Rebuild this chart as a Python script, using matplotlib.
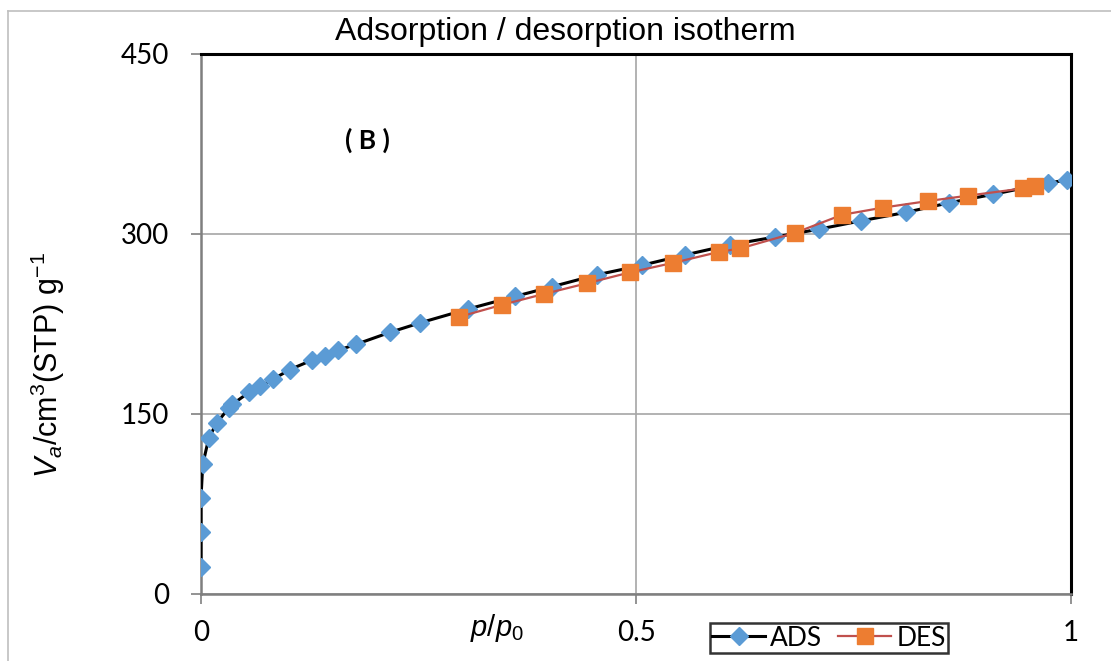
import matplotlib
matplotlib.use('Agg')
import matplotlib.pyplot as plt
from matplotlib.lines import Line2D

plt.rcParams['font.family'] = ['Liberation Sans', 'DejaVu Sans']
plt.rcParams['mathtext.fontset'] = 'custom'
plt.rcParams['mathtext.rm'] = 'Liberation Sans'
plt.rcParams['mathtext.it'] = 'Liberation Sans:italic'

# adsorption branch (p/p0, volume)
ads_p = [0.0, 0.0, 0.0, 0.002, 0.009, 0.018, 0.032, 0.036, 0.055, 0.068, 0.083,
         0.102, 0.128, 0.143, 0.157, 0.178, 0.217, 0.252, 0.307, 0.361, 0.403,
         0.455, 0.507, 0.556, 0.608, 0.66, 0.71, 0.759, 0.81, 0.86, 0.91, 0.974, 0.995]
ads_v = [22.5, 51.7, 80, 108, 130, 142.5, 155, 158, 168, 173, 179,
         187, 195, 198, 203, 208, 218, 226, 237.5, 248, 256,
         266, 274, 282.5, 291, 297.5, 304, 311, 318, 326, 333, 342.5, 345]

# desorption branch
des_p = [0.297, 0.346, 0.394, 0.444, 0.493, 0.543, 0.595, 0.62, 0.683,
         0.737, 0.784, 0.836, 0.882, 0.945, 0.959]
des_v = [231, 241, 250, 259, 268, 276, 285, 288, 301,
         316, 322, 327.5, 332, 338, 340]

x_ticks = [0, 0.5, 1]
x_labels = ['0', '0.5', '1']
y_ticks = [0, 150, 300, 450]

fig = plt.figure(figsize=(11.11, 6.61), dpi=100)
ax = fig.add_axes([201 / 1111, 67 / 661, 870 / 1111, 540 / 661])

ax.plot(ads_p, ads_v, color='black', lw=2.2, marker='D', ms=9,
        mfc='#5B9BD5', mec='#5B9BD5', label='ADS', zorder=3)
ax.plot(des_p, des_v, color='#C0504D', lw=1.6, marker='s', ms=11,
        mfc='#ED7D31', mec='#ED7D31', label='DES', zorder=4)

ax.set_xlim(0, 1)
ax.set_ylim(0, 450)
ax.set_xticks(x_ticks)
ax.set_xticklabels(x_labels)
ax.set_yticks(y_ticks)
ax.grid(True, color='#A6A6A6', lw=1.2)
ax.set_axisbelow(True)

ax.tick_params(direction='out', length=7, width=1.2, color='#808080')
ax.tick_params(axis='x', pad=12)
ax.tick_params(axis='y', pad=16)
for lab in ax.get_xticklabels() + ax.get_yticklabels():
    lab.set_fontfamily('Lato')
    lab.set_fontsize(20)

for s in ['left', 'bottom']:
    ax.spines[s].set_color('#7F7F7F')
    ax.spines[s].set_linewidth(1.8)
for s in ['top', 'right']:
    ax.spines[s].set_color('black')
    ax.spines[s].set_linewidth(2.2)

fig.text(565 / 1111, 1 - 32 / 661, 'Adsorption / desorption isotherm',
         ha='center', va='center', fontsize=23)
ax.text(367 / 1111, 1 - 140 / 661, '( B )', transform=fig.transFigure,
        ha='center', va='center', fontsize=19, fontweight='bold', family='Lato')
fig.text(48 / 1111, 1 - 365 / 661, r'$V_a$/cm$^3$(STP) g$^{-1}$',
         rotation=90, ha='center', va='center', fontsize=22)
fig.text(497 / 1111, 1 - 628 / 661, r'$p$/$p_{\mathrm{0}}$',
         ha='center', va='center', fontsize=21)

leg = fig.legend(loc='center', bbox_to_anchor=(829 / 1111, 1 - 638 / 661),
                 ncol=2, frameon=True, fancybox=False, borderpad=0.1,
                 handlelength=2.0, handletextpad=0.2, columnspacing=0.6,
                 prop={'family': 'Lato', 'size': 19}, borderaxespad=0)
leg.get_frame().set_edgecolor('black')
leg.get_frame().set_linewidth(1.8)

# outer chart frame
fig.add_artist(Line2D([8 / 1111, 8 / 1111], [0, 1 - 11 / 661],
                      transform=fig.transFigure, color='#BFBFBF', lw=1.2))
fig.add_artist(Line2D([8 / 1111, 1], [1 - 11 / 661, 1 - 11 / 661],
                      transform=fig.transFigure, color='#BFBFBF', lw=1.2))

fig.savefig('out.png', dpi=100)
